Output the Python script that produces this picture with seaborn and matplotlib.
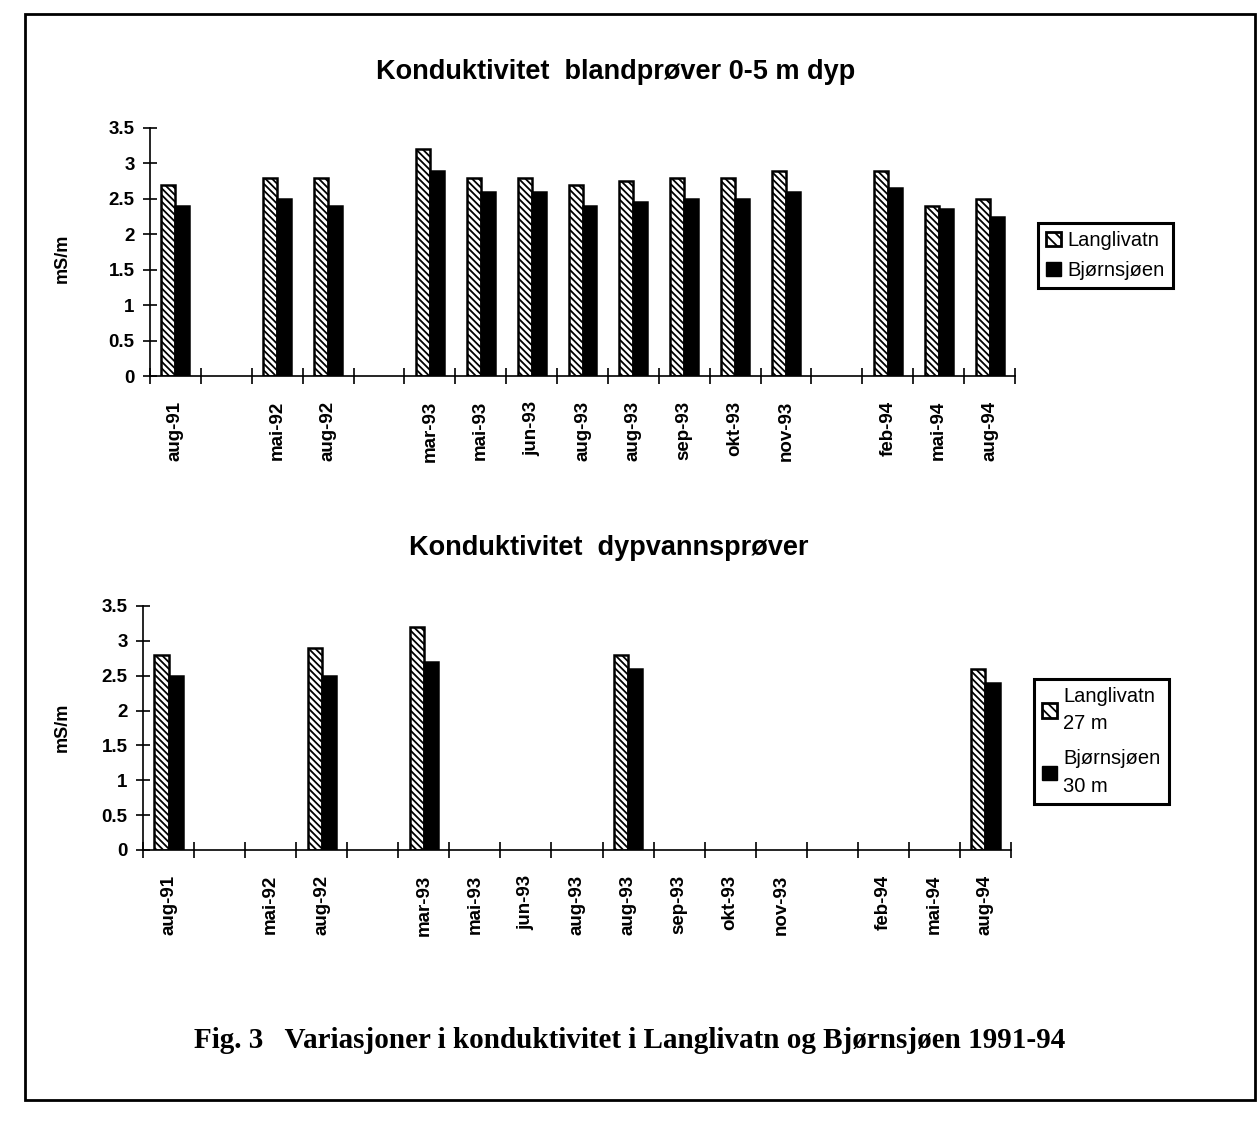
import numpy as np
import pandas as pd
import seaborn as sns
import matplotlib.pyplot as plt
from matplotlib.patches import Patch, Rectangle
from matplotlib.ticker import FixedLocator, FuncFormatter

sns.set_theme(style="ticks")
plt.rcParams['font.family'] = ['Liberation Sans', 'DejaVu Sans']
plt.rcParams.update({
    'hatch.linewidth': 1.3, 'hatch.color': 'black',
    'text.color': 'black', 'axes.labelcolor': 'black', 'axes.edgecolor': 'black',
    'xtick.color': 'black', 'ytick.color': 'black',
})

nan = np.nan
# 17 slots on the x axis, some slots empty
labels = ['aug-91', '', 'mai-92', 'aug-92', '', 'mar-93', 'mai-93', 'jun-93', 'aug-93',
          'aug-93', 'sep-93', 'okt-93', 'nov-93', '', 'feb-94', 'mai-94', 'aug-94']

top_lang = [2.7, nan, 2.8, 2.8, nan, 3.2, 2.8, 2.8, 2.7, 2.75, 2.8, 2.8, 2.9, nan, 2.9, 2.4, 2.5]
top_bjorn = [2.4, nan, 2.5, 2.4, nan, 2.9, 2.6, 2.6, 2.4, 2.45, 2.5, 2.5, 2.6, nan, 2.65, 2.35, 2.25]

deep_lang = [2.8, nan, nan, 2.9, nan, 3.2, nan, nan, nan, 2.8, nan, nan, nan, nan, nan, nan, 2.6]
deep_bjorn = [2.5, nan, nan, 2.5, nan, 2.7, nan, nan, nan, 2.6, nan, nan, nan, nan, nan, nan, 2.4]

series = ['Langlivatn', 'Bjørnsjøen']
slots = [f"s{i}" for i in range(len(labels))]

W, H = 1258, 1121
fig = plt.figure(figsize=(W / 100, H / 100), dpi=100)


def make_df(lang, bjorn):
    return pd.concat([
        pd.DataFrame({'slot': slots, 'value': lang, 'serie': series[0]}),
        pd.DataFrame({'slot': slots, 'value': bjorn, 'serie': series[1]}),
    ], axis=0, ignore_index=True)


def draw_panel(ax, df, legend_labels, legend_xy, spacing=0.55, linespacing=1.35):
    sns.barplot(data=df, x='slot', y='value', hue='serie', order=slots, hue_order=series,
                palette={series[0]: 'white', series[1]: 'black'}, width=0.55,
                edgecolor='black', linewidth=1.8, ax=ax, legend=False)
    for bar in ax.containers[0]:
        bar.set_hatch('\\\\\\\\\\')

    sns.despine(ax=ax)
    ax.spines['left'].set_linewidth(1.2)
    ax.spines['bottom'].set_linewidth(1.2)
    ax.set_xlim(-0.5, len(slots) - 0.5)
    ax.set_ylim(0, 3.5)
    ax.set_yticks(np.arange(0, 3.51, 0.5))
    ax.yaxis.set_major_formatter(FuncFormatter(lambda v, p: f"{v:g}"))
    ax.tick_params(axis='y', direction='inout', length=10, width=1.2, pad=6,
                   labelsize=13.5)
    for t in ax.get_yticklabels():
        t.set_fontweight('bold')

    ax.set_xticks(range(len(slots)))
    ax.set_xticklabels(labels, rotation=90, fontsize=13.5, fontweight='bold')
    ax.tick_params(axis='x', which='major', length=0, pad=18)
    ax.xaxis.set_minor_locator(FixedLocator(np.arange(-0.5, len(slots), 1.0)))
    ax.tick_params(axis='x', which='minor', direction='inout', length=12, width=1.2)
    ax.set_xlabel('')
    ax.set_ylabel('')

    handles = [Patch(facecolor='white', edgecolor='black', hatch='\\\\\\', linewidth=2),
               Patch(facecolor='black', edgecolor='black')]
    leg = ax.legend(handles, legend_labels, loc='upper left',
                    bbox_to_anchor=legend_xy, bbox_transform=fig.transFigure,
                    frameon=True, fancybox=False, fontsize=14.5,
                    handlelength=0.75, handleheight=0.75, handletextpad=0.3,
                    borderpad=0.4, labelspacing=spacing, borderaxespad=0)
    leg.get_frame().set_edgecolor('black')
    leg.get_frame().set_linewidth(2.2)
    leg.get_frame().set_alpha(1)
    for t in leg.get_texts():
        t.set_linespacing(linespacing)


# top panel: y 128 (3.5) .. 376 (0)
ax1 = fig.add_axes([150 / W, 1 - 376 / H, 865 / W, 248 / H])
draw_panel(ax1, make_df(top_lang, top_bjorn), series, (1038 / W, 1 - 223 / H))

# bottom panel: y 606 (3.5) .. 850 (0)
ax2 = fig.add_axes([143 / W, 1 - 850 / H, 868 / W, 244 / H])
draw_panel(ax2, make_df(deep_lang, deep_bjorn),
           ['Langlivatn\n27 m', 'Bjørnsjøen\n30 m'], (1034 / W, 1 - 679 / H),
           spacing=0.8, linespacing=1.55)

fig.text(616 / W, 1 - 72 / H, 'Konduktivitet  blandprøver 0-5 m dyp',
         ha='center', va='center', fontsize=19.5, fontweight='bold')
fig.text(609 / W, 1 - 548 / H, 'Konduktivitet  dypvannsprøver',
         ha='center', va='center', fontsize=19.5, fontweight='bold')
fig.text(62 / W, 1 - 258 / H, 'mS/m', rotation=90, ha='center', va='center',
         fontsize=13, fontweight='bold')
fig.text(62 / W, 1 - 727 / H, 'mS/m', rotation=90, ha='center', va='center',
         fontsize=13, fontweight='bold')
fig.text(630 / W, 1 - 1040 / H,
         'Fig. 3   Variasjoner i konduktivitet i Langlivatn og Bjørnsjøen 1991-94',
         ha='center', va='center', fontsize=21, fontweight='bold',
         family=['Liberation Serif', 'DejaVu Serif'])

fig.patches.append(Rectangle((25 / W, 1 - 1100 / H), 1230 / W, 1086 / H,
                             transform=fig.transFigure, fill=False,
                             edgecolor='black', linewidth=2))

fig.savefig('out.png', dpi=100)
